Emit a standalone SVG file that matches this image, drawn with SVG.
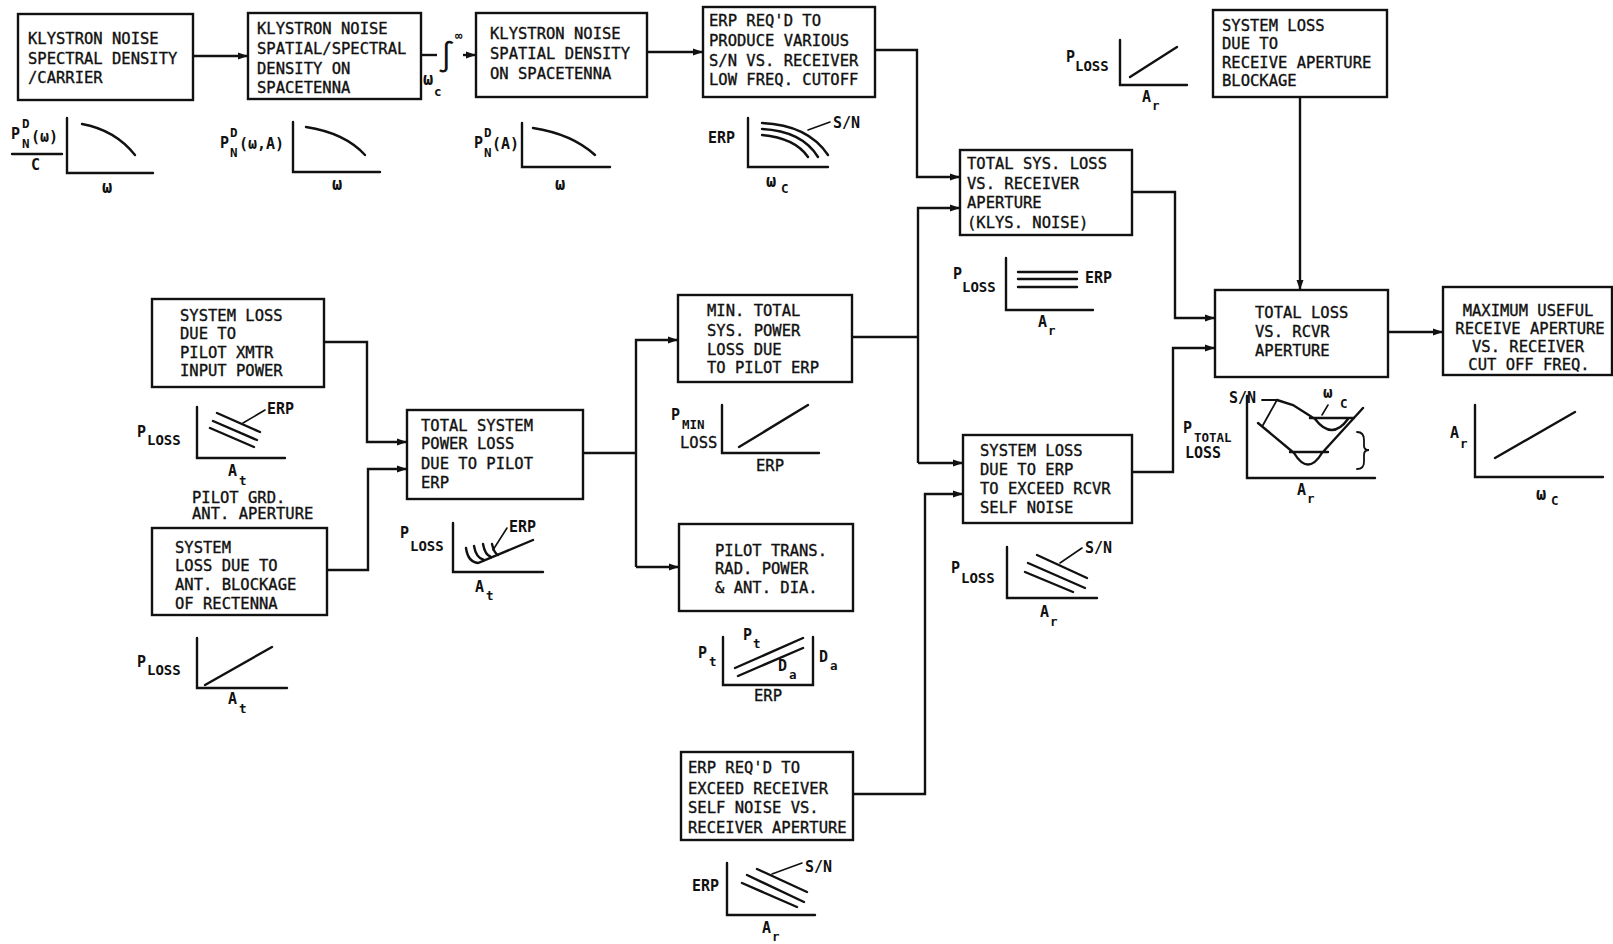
<svg xmlns="http://www.w3.org/2000/svg" width="1613" height="944" viewBox="0 0 1613 944">
<style>
.box{fill:none;stroke:#111;stroke-width:2.4}
.c{fill:none;stroke:#111;stroke-width:2.4}
.g{fill:none;stroke:#111;stroke-width:2.4;stroke-linecap:round}
.t{font-family:"DejaVu Sans Mono","Liberation Mono",monospace;font-size:15.5px;fill:#111;stroke:#111;stroke-width:0.35}
.m{text-anchor:middle}
.l{font-family:"DejaVu Sans Mono","Liberation Mono",monospace;font-size:15px;font-weight:bold;fill:#111}
.s{font-family:"DejaVu Sans Mono","Liberation Mono",monospace;font-size:12.5px;font-weight:bold;fill:#111}
.ss{font-family:"DejaVu Sans Mono","Liberation Mono",monospace;font-size:14px;font-weight:bold;fill:#111}
</style>
<defs>
<marker id="ah" markerUnits="userSpaceOnUse" markerWidth="11" markerHeight="8" refX="10" refY="4" orient="auto">
<path d="M0,0.5 L10,4 L0,7.5 z" fill="#111"/>
</marker>
</defs>
<rect width="1613" height="944" fill="#fff"/>

<g id="connectors">
<path class="c" d="M193,56 H248" marker-end="url(#ah)"/>
<path class="c" d="M421,55 H437"/>
<path class="c" d="M463,55 H476" marker-end="url(#ah)"/>
<path class="c" d="M647,52 H703" marker-end="url(#ah)"/>
<path class="c" d="M875,50 H917 V177 H960" marker-end="url(#ah)"/>
<path class="c" d="M852,337 H918"/>
<path class="c" d="M918,463 V208 H960" marker-end="url(#ah)"/>
<path class="c" d="M918,463 H963" marker-end="url(#ah)"/>
<path class="c" d="M853,794 H925 V494 H963" marker-end="url(#ah)"/>
<path class="c" d="M1132,192 H1175 V318 H1215" marker-end="url(#ah)"/>
<path class="c" d="M1132,472 H1173 V348 H1215" marker-end="url(#ah)"/>
<path class="c" d="M1300,97 V290" marker-end="url(#ah)"/>
<path class="c" d="M1388,332 H1443" marker-end="url(#ah)"/>
<path class="c" d="M324,342 H367 V442 H407" marker-end="url(#ah)"/>
<path class="c" d="M327,570 H368 V469 H407" marker-end="url(#ah)"/>
<path class="c" d="M583,453 H636"/>
<path class="c" d="M636,567 V340 H678" marker-end="url(#ah)"/>
<path class="c" d="M636,567 H679" marker-end="url(#ah)"/>
<text class="l" x="437" y="67" style="font-size:30px;font-weight:normal">∫</text>
<text class="s" x="455" y="40">∞</text>
<text class="l" x="423" y="85" style="font-size:17px">ω</text>
<text class="s" x="434" y="96">c</text>
</g>

<g id="n1">
<rect class="box" x="18" y="14" width="175" height="86"/>
<text class="t" x="28" y="44">KLYSTRON NOISE</text>
<text class="t" x="28" y="64">SPECTRAL DENSITY</text>
<text class="t" x="28" y="83">/CARRIER</text>
<path class="g" d="M67,118 V173 H153"/>
<path class="g" d="M82,124 Q115,130 135,155"/>
<text class="l" x="11" y="139">P</text>
<text class="s" x="22" y="128">D</text>
<text class="s" x="22" y="148">N</text>
<text class="l" x="31" y="142">(ω)</text>
<path class="g" d="M12,154 H62"/>
<text class="l" x="31" y="170">C</text>
<text class="l m" x="107" y="193" style="font-size:17px">ω</text>
</g>

<g id="n2">
<rect class="box" x="248" y="13" width="173" height="86"/>
<text class="t" x="257" y="34">KLYSTRON NOISE</text>
<text class="t" x="257" y="54">SPATIAL/SPECTRAL</text>
<text class="t" x="257" y="74">DENSITY ON</text>
<text class="t" x="257" y="93">SPACETENNA</text>
<path class="g" d="M293,122 V172 H380"/>
<path class="g" d="M306,127 Q345,133 365,155"/>
<text class="l" x="220" y="148">P</text>
<text class="s" x="230" y="137">D</text>
<text class="s" x="230" y="157">N</text>
<text class="l" x="239" y="149">(ω,A)</text>
<text class="l m" x="337" y="190" style="font-size:17px">ω</text>
</g>

<g id="n3">
<rect class="box" x="476" y="13" width="171" height="84"/>
<text class="t" x="490" y="39">KLYSTRON NOISE</text>
<text class="t" x="490" y="59">SPATIAL DENSITY</text>
<text class="t" x="490" y="79">ON SPACETENNA</text>
<path class="g" d="M522,123 V167 H610"/>
<path class="g" d="M533,128 Q572,134 595,155"/>
<text class="l" x="474" y="148">P</text>
<text class="s" x="484" y="137">D</text>
<text class="s" x="484" y="157">N</text>
<text class="l" x="492" y="149">(A)</text>
<text class="l m" x="560" y="190" style="font-size:17px">ω</text>
</g>

<g id="n4">
<rect class="box" x="703" y="7" width="172" height="90"/>
<text class="t" x="709" y="26">ERP REQ'D TO</text>
<text class="t" x="709" y="46">PRODUCE VARIOUS</text>
<text class="t" x="709" y="66">S/N VS. RECEIVER</text>
<text class="t" x="709" y="85">LOW FREQ. CUTOFF</text>
<path class="g" d="M748,118 V167 H828"/>
<path class="g" d="M762,123 Q808,125 828,155"/>
<path class="g" d="M762,129 Q802,131 818,157"/>
<path class="g" d="M762,135 Q795,138 808,157"/>
<path class="g" d="M808,130 L830,122" style="stroke-width:1.6"/>
<text class="l" x="833" y="128">S/N</text>
<text class="l" x="708" y="143">ERP</text>
<text class="l" x="766" y="187" style="font-size:17px">ω</text>
<text class="s" x="781" y="193">C</text>
</g>

<g id="n5">
<rect class="box" x="1213" y="10" width="174" height="87"/>
<text class="t" x="1222" y="31">SYSTEM LOSS</text>
<text class="t" x="1222" y="49">DUE TO</text>
<text class="t" x="1222" y="68">RECEIVE APERTURE</text>
<text class="t" x="1222" y="86">BLOCKAGE</text>
<path class="g" d="M1120,40 V85 H1187"/>
<path class="g" d="M1130,77 L1177,47"/>
<text class="l" x="1066" y="62">P</text>
<text class="ss" x="1075" y="71">LOSS</text>
<text class="l" x="1142" y="102">A</text>
<text class="s" x="1152" y="110">r</text>
</g>

<g id="n6">
<rect class="box" x="960" y="150" width="172" height="85"/>
<text class="t" x="967" y="169">TOTAL SYS. LOSS</text>
<text class="t" x="967" y="189">VS. RECEIVER</text>
<text class="t" x="967" y="208">APERTURE</text>
<text class="t" x="967" y="228">(KLYS. NOISE)</text>
<path class="g" d="M1006,258 V310 H1093"/>
<path class="g" d="M1018,272 H1077 M1018,279 H1077 M1018,287 H1077"/>
<text class="l" x="1085" y="283">ERP</text>
<text class="l" x="953" y="279">P</text>
<text class="ss" x="962" y="292">LOSS</text>
<text class="l" x="1038" y="327">A</text>
<text class="s" x="1048" y="335">r</text>
</g>

<g id="n7">
<rect class="box" x="1215" y="290" width="173" height="87"/>
<text class="t" x="1255" y="318">TOTAL LOSS</text>
<text class="t" x="1255" y="337">VS. RCVR</text>
<text class="t" x="1255" y="356">APERTURE</text>
<path class="g" d="M1247,396 V478 H1375"/>
<path class="g" d="M1258,423 L1294,453 M1290,452 H1328 M1294,453 Q1308,476 1322,453 M1322,453 L1363,408"/>
<path class="g" d="M1277,400 L1293,405 L1315,419 M1310,418 H1354 M1315,419 Q1332,441 1348,419"/>
<path class="g" d="M1262,400 H1277 L1263,425" style="stroke-width:1.8"/>
<path class="g" d="M1328,405 L1322,415" style="stroke-width:1.6"/>
<path class="g" d="M1357,432 Q1364,432 1364,440 V446 Q1364,450 1369,450 Q1364,450 1364,455 V462 Q1364,469 1357,469" style="stroke-width:1.8"/>
<text class="l" x="1229" y="403">S/N</text>
<text class="l" x="1323" y="398" style="font-size:16px">ω</text>
<text class="s" x="1340" y="408">C</text>
<text class="l" x="1183" y="433">P</text>
<text class="s" x="1194" y="442">TOTAL</text>
<text class="l" x="1185" y="458">LOSS</text>
<text class="l" x="1297" y="495">A</text>
<text class="s" x="1307" y="503">r</text>
</g>

<g id="n8">
<rect class="box" x="1443" y="287" width="169" height="88"/>
<text class="t m" x="1528" y="316">MAXIMUM USEFUL</text>
<text class="t m" x="1530" y="334">RECEIVE APERTURE</text>
<text class="t m" x="1528" y="352">VS. RECEIVER</text>
<text class="t m" x="1529" y="370">CUT OFF FREQ.</text>
<path class="g" d="M1475,405 V477 H1603"/>
<path class="g" d="M1495,458 L1575,412"/>
<text class="l" x="1450" y="438">A</text>
<text class="s" x="1460" y="448">r</text>
<text class="l" x="1536" y="500" style="font-size:17px">ω</text>
<text class="s" x="1551" y="505">C</text>
</g>

<g id="n9">
<rect class="box" x="152" y="299" width="172" height="88"/>
<text class="t" x="180" y="321">SYSTEM LOSS</text>
<text class="t" x="180" y="339">DUE TO</text>
<text class="t" x="180" y="358">PILOT XMTR</text>
<text class="t" x="180" y="376">INPUT POWER</text>
<path class="g" d="M197,407 V458 H285"/>
<path class="g" d="M217,413 L260,432 M213,421 L257,440 M210,428 L254,447"/>
<path class="g" d="M243,423 L265,410" style="stroke-width:1.6"/>
<text class="l" x="267" y="414">ERP</text>
<text class="l" x="137" y="437">P</text>
<text class="ss" x="147" y="445">LOSS</text>
<text class="l" x="228" y="476">A</text>
<text class="s" x="239" y="485">t</text>
<text class="t" x="192" y="503">PILOT GRD.</text>
<text class="t" x="192" y="519">ANT. APERTURE</text>
</g>

<g id="n10">
<rect class="box" x="152" y="528" width="175" height="87"/>
<text class="t" x="175" y="553">SYSTEM</text>
<text class="t" x="175" y="571">LOSS DUE TO</text>
<text class="t" x="175" y="590">ANT. BLOCKAGE</text>
<text class="t" x="175" y="609">OF RECTENNA</text>
<path class="g" d="M197,638 V688 H287"/>
<path class="g" d="M205,685 L272,647"/>
<text class="l" x="137" y="667">P</text>
<text class="ss" x="147" y="675">LOSS</text>
<text class="l" x="228" y="704">A</text>
<text class="s" x="239" y="713">t</text>
</g>

<g id="n11">
<rect class="box" x="407" y="410" width="176" height="89"/>
<text class="t" x="421" y="431">TOTAL SYSTEM</text>
<text class="t" x="421" y="449">POWER LOSS</text>
<text class="t" x="421" y="469">DUE TO PILOT</text>
<text class="t" x="421" y="488">ERP</text>
<path class="g" d="M453,523 V572 H543"/>
<path class="g" d="M466,548 Q468,562 478,563 L533,540"/>
<path class="g" d="M474,546 Q476,558 484,560 M483,544 Q485,555 491,557 M492,544 Q494,553 498,555"/>
<path class="g" d="M493,550 L507,528" style="stroke-width:1.6"/>
<text class="l" x="509" y="532">ERP</text>
<text class="l" x="400" y="538">P</text>
<text class="ss" x="410" y="551">LOSS</text>
<text class="l" x="475" y="592">A</text>
<text class="s" x="486" y="600">t</text>
</g>

<g id="n12">
<rect class="box" x="678" y="295" width="174" height="87"/>
<text class="t" x="707" y="316">MIN. TOTAL</text>
<text class="t" x="707" y="336">SYS. POWER</text>
<text class="t" x="707" y="355">LOSS DUE</text>
<text class="t" x="707" y="373">TO PILOT ERP</text>
<path class="g" d="M722,405 V453 H819"/>
<path class="g" d="M739,447 L808,405"/>
<text class="l" x="671" y="420">P</text>
<text class="s" x="682" y="429">MIN</text>
<text class="t" x="680" y="448">LOSS</text>
<text class="t m" x="770" y="471">ERP</text>
</g>

<g id="n13">
<rect class="box" x="679" y="524" width="174" height="87"/>
<text class="t" x="715" y="556">PILOT TRANS.</text>
<text class="t" x="715" y="574">RAD. POWER</text>
<text class="t" x="715" y="593">&amp; ANT. DIA.</text>
<path class="g" d="M723,637 V685 H813 V637"/>
<path class="g" d="M735,668 L803,638 M738,676 L803,648"/>
<text class="l" x="698" y="658">P</text>
<text class="s" x="709" y="666">t</text>
<text class="l" x="743" y="640">P</text>
<text class="s" x="753" y="648">t</text>
<text class="l" x="778" y="671">D</text>
<text class="s" x="789" y="679">a</text>
<text class="l" x="819" y="662">D</text>
<text class="s" x="830" y="670">a</text>
<text class="t m" x="768" y="701">ERP</text>
</g>

<g id="n14">
<rect class="box" x="963" y="435" width="169" height="88"/>
<text class="t" x="980" y="456">SYSTEM LOSS</text>
<text class="t" x="980" y="475">DUE TO ERP</text>
<text class="t" x="980" y="494">TO EXCEED RCVR</text>
<text class="t" x="980" y="513">SELF NOISE</text>
<path class="g" d="M1007,547 V598 H1097"/>
<path class="g" d="M1037,555 L1087,578 M1028,563 L1085,588 M1025,572 L1073,592"/>
<path class="g" d="M1060,563 L1082,548" style="stroke-width:1.6"/>
<text class="l" x="1085" y="553">S/N</text>
<text class="l" x="951" y="573">P</text>
<text class="ss" x="961" y="583">LOSS</text>
<text class="l" x="1040" y="617">A</text>
<text class="s" x="1050" y="626">r</text>
</g>

<g id="n15">
<rect class="box" x="681" y="752" width="172" height="88"/>
<text class="t" x="688" y="773">ERP REQ'D TO</text>
<text class="t" x="688" y="794">EXCEED RECEIVER</text>
<text class="t" x="688" y="813">SELF NOISE VS.</text>
<text class="t" x="688" y="833">RECEIVER APERTURE</text>
<path class="g" d="M727,863 V915 H815"/>
<path class="g" d="M757,869 L807,892 M747,875 L804,902 M742,883 L797,907"/>
<path class="g" d="M772,874 L802,863" style="stroke-width:1.6"/>
<text class="l" x="805" y="872">S/N</text>
<text class="l" x="692" y="891">ERP</text>
<text class="l" x="762" y="933">A</text>
<text class="s" x="772" y="941">r</text>
</g>
</svg>
